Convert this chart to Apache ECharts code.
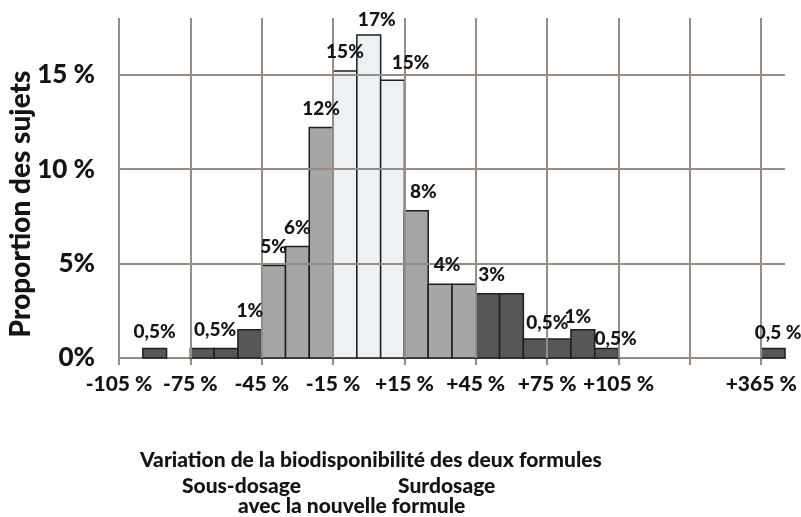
<!DOCTYPE html>
<html>
<head>
<meta charset="utf-8">
<script src="https://cdn.jsdelivr.net/npm/echarts@6/dist/echarts.min.js"></script>
<style>
  html, body { margin: 0; padding: 0; background: #fff; }
  #main { width: 801px; height: 517px; }
</style>
</head>
<body>
<div id="main"></div>
<script>
// classes de variation (début de classe, en %), largeur 10 %
const binStart = [-95, -75, -65, -55, -45, -35, -25, -15, -5, 5, 15, 25, 35, 45, 55, 65, 75, 85, 95, 365];
// proportion des sujets (%)
const proportion = [0.5, 0.5, 0.5, 1.5, 4.9, 5.9, 12.2, 15.2, 17.1, 14.7, 7.8, 3.9, 3.9, 3.4, 3.4, 1.0, 1.0, 1.5, 0.5, 0.5];
// étiquettes affichées au-dessus des barres
const barLabels = ['0,5%', null, '0,5%', '1%', '5%', '6%', '12%', '15%', '17%', '15%', '8%', '4%', null, '3%', null, '0,5%', null, '1%', '0,5%', '0,5 %'];
const xTicks = [-105, -75, -45, -15, 15, 45, 75, 105, 135, 165];
const xTickLabels = [-105, -75, -45, -15, 15, 45, 75, 105, 365];
const yTicks = [0, 5, 10, 15];

// axe coupé : tout ce qui dépasse +105 % est ramené de 200 points
const BREAK_FROM = 105, BREAK_SHIFT = 200;
const axisPos = v => (v > BREAK_FROM ? v - BREAK_SHIFT : v);
const axisText = v => {
  const real = v > BREAK_FROM + 30 ? v + BREAK_SHIFT : v;
  return (real > 0 ? '+' : '') + real + ' %';
};

const DARK = '#575757', MID = '#a6a6a6', LIGHT = '#eef1f4';
function barColor(start) {
  if (start < -45) return DARK;
  if (start < -15) return MID;
  if (start < 15) return LIGHT;
  if (start < 45) return MID;
  return DARK;
}

// petits décalages des étiquettes (px)
const labelDx = {2: -11, 8: 8, 9: 18, 10: 7, 11: 7, 13: 4, 15: 12, 17: -5, 18: 9, 19: 5};
const labelDy = {0: 17, 8: 15, 9: 17, 15: 16, 17: 13, 18: 10, 19: 16};

const GRID = '#968c88';
const TXT = '#141414';
const FONT = 'Lato, "Noto Sans", sans-serif';

const bars = binStart.map((s, i) => [axisPos(s), axisPos(s) + 10, proportion[i], i]);

var chart = echarts.init(document.getElementById('main'));
var option = {
  animation: false,
  grid: { left: 119, right: 16, top: 18, bottom: 159, outerBoundsMode: 'none', containLabel: false },
  xAxis: {
    type: 'value',
    min: -105,
    max: 175,
    interval: 30,
    axisLine: { show: true, onZero: false, lineStyle: { color: GRID, width: 2 } },
    axisTick: { show: true, length: 7, customValues: xTicks, lineStyle: { color: GRID, width: 2 } },
    axisLabel: {
      customValues: xTickLabels.map(axisPos),
      formatter: axisText,
      margin: 16,
      color: TXT,
      fontFamily: FONT,
      fontWeight: 900,
      fontSize: 21
    },
    splitLine: { show: false }
  },
  yAxis: {
    type: 'value',
    min: 0,
    max: 18,
    interval: 5,
    axisLine: { show: false },
    axisTick: { show: true, length: 7, customValues: yTicks, lineStyle: { color: GRID, width: 2 } },
    axisLabel: {
      customValues: yTicks,
      formatter: v => (v >= 10 ? v + ' %' : v + '%'),
      margin: 24,
      color: TXT,
      fontFamily: FONT,
      fontWeight: 900,
      fontSize: 26
    },
    splitLine: { show: false }
  },
  series: [
    {
      // quadrillage
      type: 'line',
      data: [],
      z: 1,
      silent: true,
      markLine: {
        silent: true,
        symbol: 'none',
        label: { show: false },
        lineStyle: { color: GRID, width: 2, type: 'solid' },
        data: xTicks.map(v => ({ xAxis: v })).concat(yTicks.slice(1).map(v => ({ yAxis: v })))
      }
    },
    {
      type: 'custom',
      z: 3,
      data: bars,
      encode: { x: [0, 1], y: 2 },
      renderItem: function (params, api) {
        const p0 = api.coord([api.value(0), 0]);
        const p1 = api.coord([api.value(1), api.value(2)]);
        return {
          type: 'rect',
          shape: { x: p0[0], y: p1[1], width: p1[0] - p0[0], height: p0[1] - p1[1] },
          style: { fill: barColor(binStart[api.value(3)]), stroke: '#1e1e1e', lineWidth: 1.5 }
        };
      }
    },
    {
      // étiquettes au-dessus de toutes les barres
      type: 'custom',
      z: 5,
      silent: true,
      data: bars,
      encode: { x: [0, 1], y: 2 },
      renderItem: function (params, api) {
        const i = api.value(3);
        if (!barLabels[i]) return null;
        const p0 = api.coord([api.value(0), 0]);
        const p1 = api.coord([api.value(1), api.value(2)]);
        return {
          type: 'text',
          x: (p0[0] + p1[0]) / 2 + (labelDx[i] || 0),
          y: p1[1] - (labelDy[i] || 19),
          style: {
            text: barLabels[i],
            fill: TXT,
            font: '900 19px ' + FONT,
            align: 'center',
            verticalAlign: 'middle'
          }
        };
      }
    }
  ],
  graphic: [
    { type: 'text', x: 21, y: 204, rotation: Math.PI / 2, style: { text: 'Proportion des sujets', font: '900 28px ' + FONT, fill: TXT, align: 'center', verticalAlign: 'middle' } },
    { type: 'text', left: 140, top: 450, style: { text: 'Variation de la biodisponibilité des deux formules', font: '900 21px ' + FONT, fill: TXT } },
    { type: 'text', left: 182, top: 476, style: { text: 'Sous-dosage', font: '900 21px ' + FONT, fill: TXT } },
    { type: 'text', left: 398, top: 476, style: { text: 'Surdosage', font: '900 21px ' + FONT, fill: TXT } },
    { type: 'text', left: 238, top: 496, style: { text: 'avec la nouvelle formule', font: '900 21px ' + FONT, fill: TXT } }
  ]
};
chart.setOption(option);
window.addEventListener('resize', () => chart.resize());
</script>
</body>
</html>
